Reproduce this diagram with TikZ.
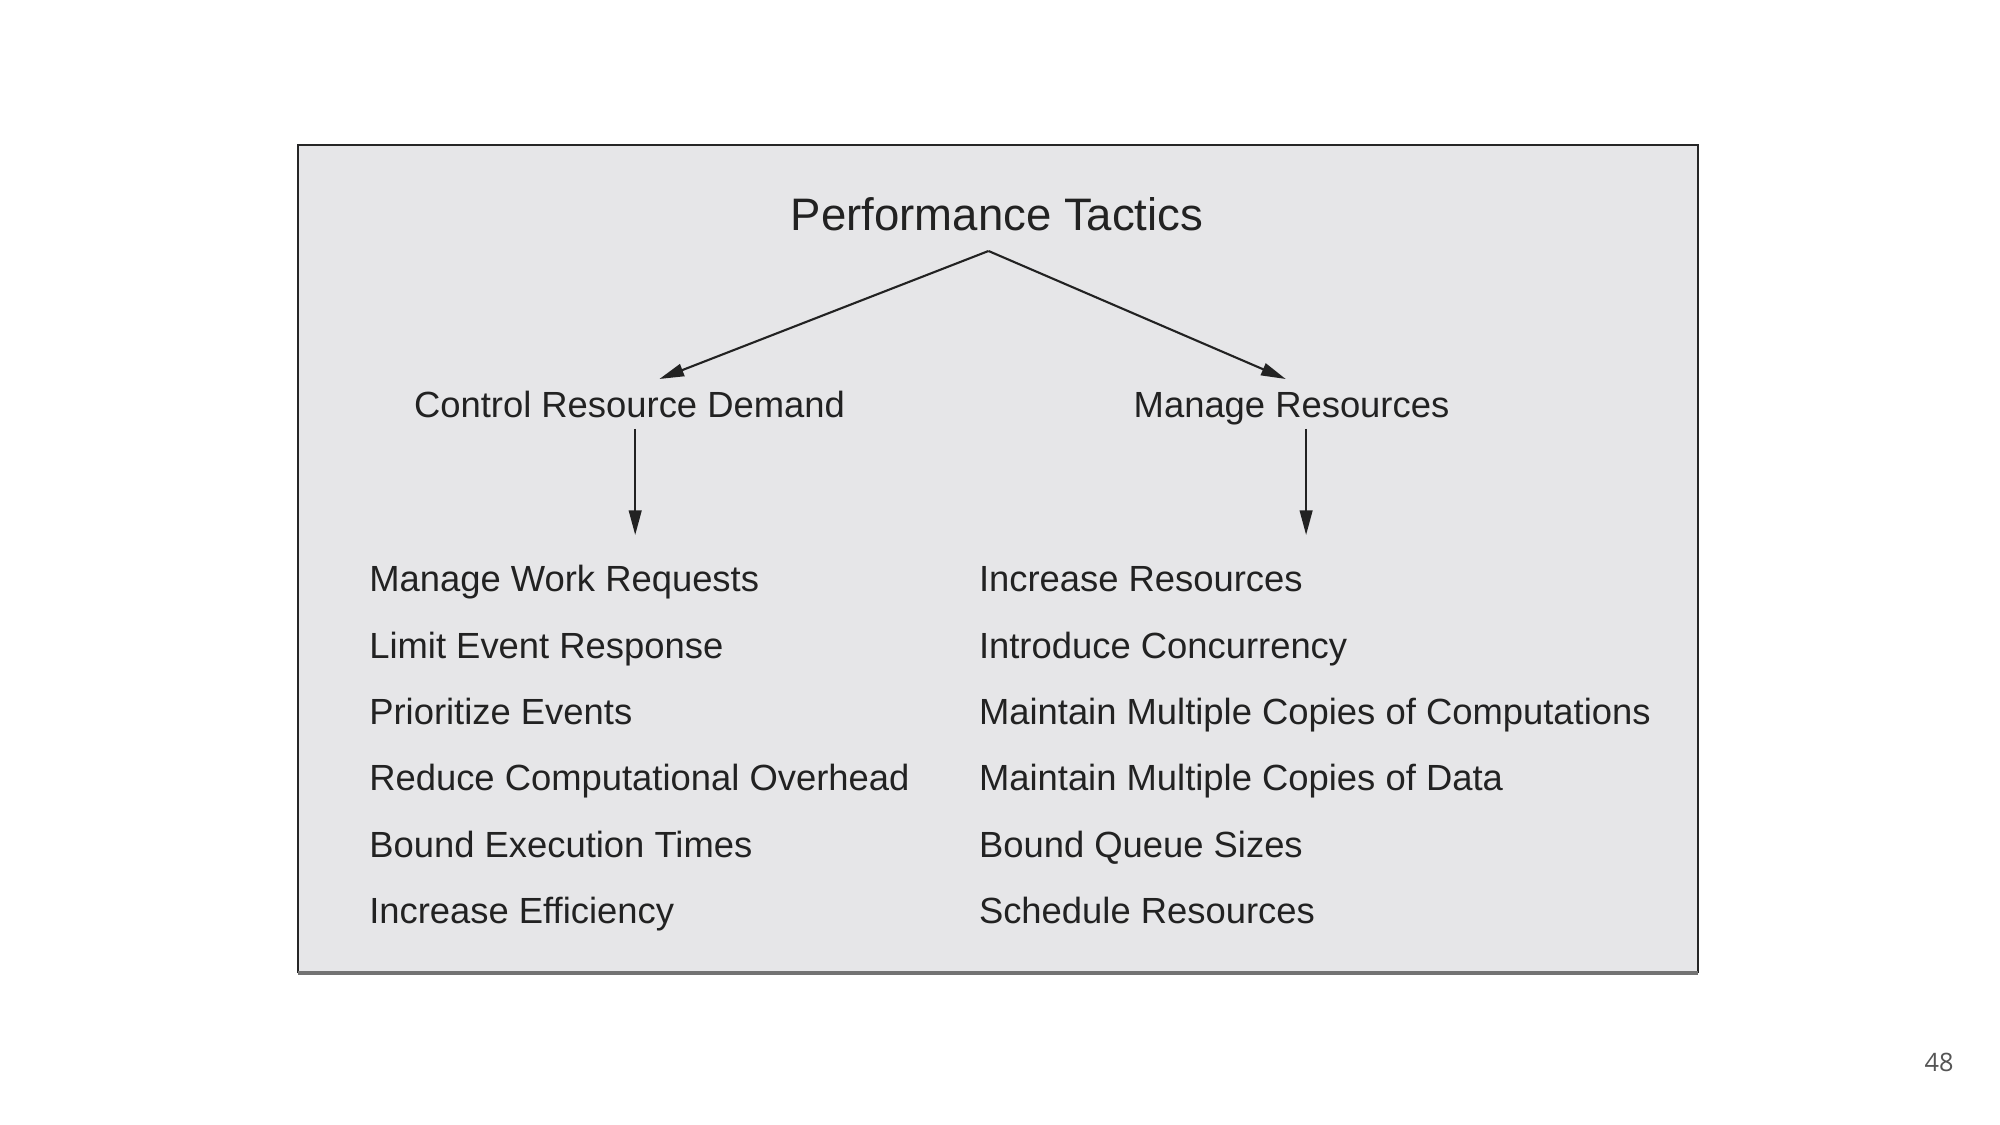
\documentclass[tikz,border=0pt]{standalone}
\usepackage{fontspec}
\setmainfont{Liberation Sans}
\newfontfamily\pgnumfont{Open Sans}
\usetikzlibrary{arrows.meta}
\definecolor{boxfill}{HTML}{E6E6E8}
\definecolor{ink}{HTML}{222222}
\definecolor{pgray}{HTML}{555555}
\tikzset{
  title/.style={font=\fontsize{12.95pt}{14pt}\selectfont, text=ink, inner sep=0pt},
  sub/.style={font=\fontsize{10.35pt}{12pt}\selectfont, text=ink, inner sep=0pt},
  item/.style={font=\fontsize{10.35pt}{12pt}\selectfont, text=ink, inner sep=0pt, anchor=base west},
  conn/.style={draw=ink, line width=0.6pt, -{Triangle[length=7pt, width=3.6pt]}},
}
\begin{document}
\begin{tikzpicture}[x=0.01cm,y=-0.01cm]
\useasboundingbox (0,0) rectangle (2000,1125);
\fill[white] (0,0) rectangle (2000,1125);
% panel
\fill[boxfill] (298,145) rectangle (1698,973);
\draw[draw=black!85, line width=0.8pt] (298,973) -- (298,145) -- (1698,145) -- (1698,973);
\draw[draw=black!55, line width=1.2pt] (298,973) -- (1698,973);
% title
\node[title, anchor=base] (pt) at (997,231) {Performance Tactics};
\node[sub, anchor=base] (crd) at (629.5,418) {Control Resource Demand};
\node[sub, anchor=base] (mr) at (1291.5,418) {Manage Resources};
% arrows
\coordinate (apex) at (988.5,251);
\coordinate (tipL) at (659.4,379);
\coordinate (tipR) at (1285.7,379);
\coordinate (startL) at (635.2,429);
\coordinate (endL) at (635.2,535);
\coordinate (startR) at (1306.1,429);
\coordinate (endR) at (1306.1,535);
\draw[conn] (apex) -- (tipL);
\draw[conn] (apex) -- (tipR);
\draw[conn] (startL) -- (endL);
\draw[conn] (startR) -- (endR);
% left column
\node[item] (l1) at (368.6,592) {Manage Work Requests};
\node[item] (l2) at (368.6,658.3) {Limit Event Response};
\node[item] (l3) at (368.6,724.6) {Prioritize Events};
\node[item] (l4) at (368.6,790.9) {Reduce Computational Overhead};
\node[item] (l5) at (368.6,857.2) {Bound Execution Times};
\node[item] (l6) at (368.6,923.5) {Increase Efficiency};
% right column
\node[item] (r1) at (978.3,592) {Increase Resources};
\node[item] (r2) at (978.3,658.3) {Introduce Concurrency};
\node[item] (r3) at (978.3,724.6) {Maintain Multiple Copies of Computations};
\node[item] (r4) at (978.3,790.9) {Maintain Multiple Copies of Data};
\node[item] (r5) at (978.3,857.2) {Bound Queue Sizes};
\node[item] (r6) at (978.3,923.5) {Schedule Resources};
% page number
\node[font=\pgnumfont\fontsize{7.2pt}{8pt}\selectfont, text=pgray, inner sep=0pt, anchor=base] (pg) at (1939,1071) {48};
\end{tikzpicture}
\end{document}
